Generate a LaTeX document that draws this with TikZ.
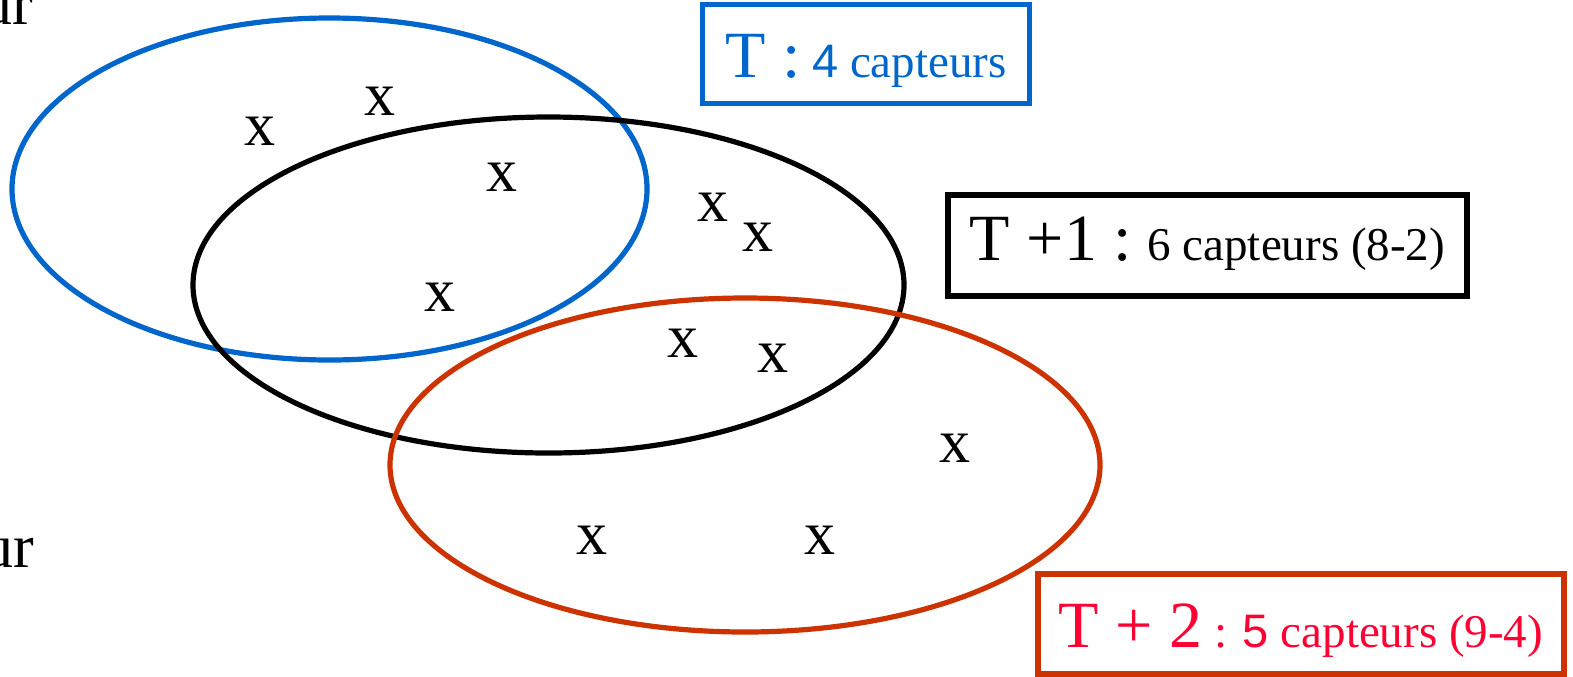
\documentclass[tikz,border=0pt]{standalone}
\usepackage{fontspec}
\setmainfont{Liberation Serif}
\newfontfamily\digsans{Liberation Sans}
\definecolor{cblue}{RGB}{0,102,204}
\definecolor{cred}{RGB}{204,51,0}
\definecolor{tred}{RGB}{255,0,51}
\newcommand{\bigtxt}{\rmfamily\fontsize{33}{33}\selectfont}
\newcommand{\smalltxt}{\rmfamily\fontsize{23.5}{24}\selectfont}
\begin{document}
\begin{tikzpicture}[x=0.5pt,y=-0.5pt,
  mark x/.style={inner sep=0pt,font=\rmfamily\fontsize{31}{31}\selectfont},
  labelbox/.style={draw,rectangle,inner sep=0pt,line width=2.6pt},
  ring/.style={line width=2.6pt},
]
\useasboundingbox (0,0) rectangle (1573,676);
% ellipses
\draw[ring,cblue] (329.5,189) ellipse [x radius=317.5, y radius=171];
\draw[ring,black] (548.5,285) ellipse [x radius=355.5, y radius=168];
\draw[ring,cred] (745,465) ellipse [x radius=355, y radius=167];
% cut-off text at left
\node[anchor=base east,inner sep=0pt,font=\rmfamily\fontsize{31}{31}\selectfont] (ur1) at (34,24) {ur};
\node[anchor=base east,inner sep=0pt,font=\rmfamily\fontsize{31}{31}\selectfont] (ur2) at (35,567) {ur};
% sensors
\node[mark x] (s1) at (260,131) {x};
\node[mark x] (s2) at (380,101) {x};
\node[mark x] (s3) at (502,177) {x};
\node[mark x] (s4) at (713,207) {x};
\node[mark x] (s5) at (758,237) {x};
\node[mark x] (s6) at (440,297) {x};
\node[mark x] (s7) at (683,343) {x};
\node[mark x] (s8) at (773,358) {x};
\node[mark x] (s9) at (955,448) {x};
\node[mark x] (s10) at (592,540) {x};
\node[mark x] (s11) at (820,540) {x};
% label boxes
\node[labelbox,draw=cblue,text=cblue,minimum width=163.5pt,
  text height=36.25pt,text depth=13.25pt] (bT) at (866,54)
  {\bigtxt T :\smalltxt{} {\digsans 4} capteurs};
\node[labelbox,draw=black,minimum width=259.5pt,
  text height=32.5pt,text depth=18pt] (bT1) at (1207.5,245.5)
  {\bigtxt T +1 :\smalltxt{} 6 capteurs (8-2)};
\node[labelbox,draw=cred,text=tred,minimum width=263pt,
  text height=36.5pt,text depth=13.5pt] (bT2) at (1301,624)
  {\bigtxt T + 2\smalltxt{} : {\digsans 5} capteurs (9-4)};
\end{tikzpicture}
\end{document}
